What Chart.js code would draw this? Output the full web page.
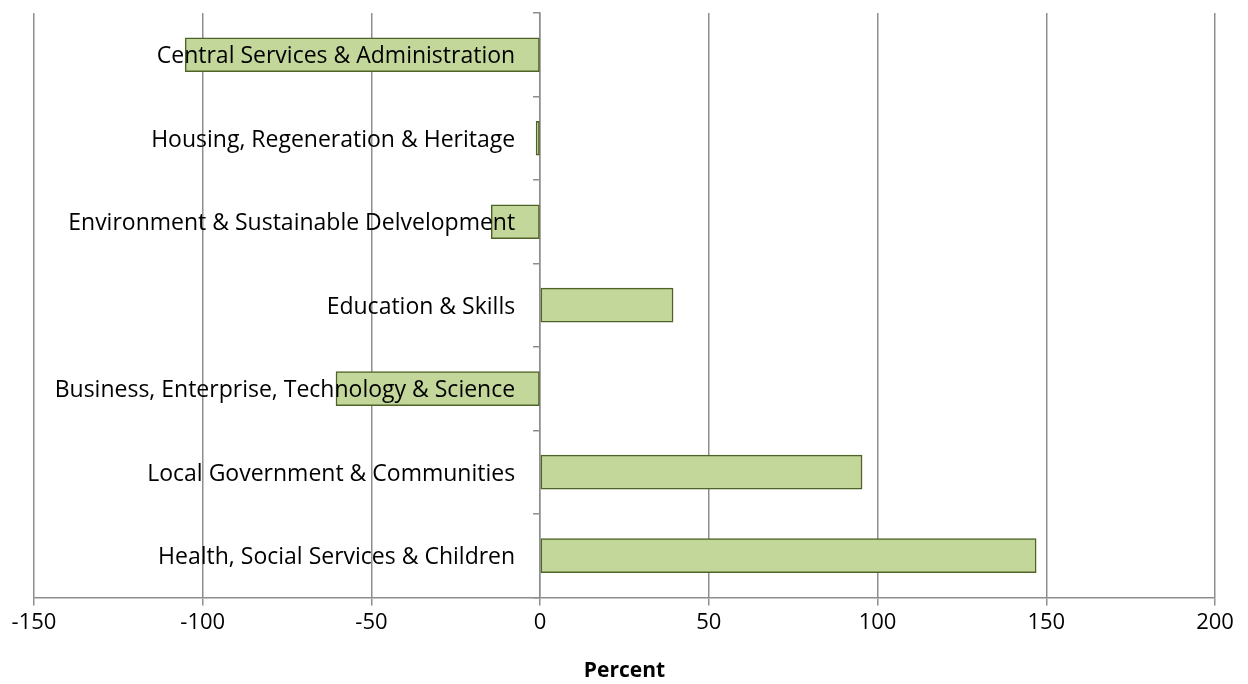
<!DOCTYPE html>
<html>
<head>
<meta charset="utf-8">
<script src="https://cdn.jsdelivr.net/npm/chart.js@4"></script>
<style>
  html, body { margin: 0; padding: 0; background: #fff; }
  #wrap { width: 1248px; height: 684px; }
</style>
</head>
<body>
<div id="wrap"><canvas id="budgetChart" width="1248" height="684"></canvas></div>
<script>
// categories, top to bottom
const categories = [
    "Central Services & Administration",
    "Housing, Regeneration & Heritage",
    "Environment & Sustainable Delvelopment",
    "Education & Skills",
    "Business, Enterprise, Technology & Science",
    "Local Government & Communities",
    "Health, Social Services & Children"
];
// percent change per department
const percentValues = [-105.2, -1.2, -14.5, 39.4, -60.5, 95.4, 147];
const xMin = -150;
const xMax = 200;
const xStep = 50;

const gridGrey = "#8e8e8e";
const fontFamily = "'Open Sans', Lato, sans-serif";

// category names are drawn left of the zero line, on top of the bars
const categoryLabels = {
    id: "categoryLabels",
    afterDatasetsDraw(chart) {
        const ctx = chart.ctx;
        const xScale = chart.scales.x;
        const yScale = chart.scales.y;
        const x0 = xScale.getPixelForValue(0);
        ctx.save();
        ctx.font = "23px " + fontFamily;
        ctx.fillStyle = "#000";
        ctx.textAlign = "right";
        ctx.textBaseline = "middle";
        categories.forEach((name, i) => {
            ctx.fillText(name, x0 - 25, yScale.getPixelForValue(i) + 2);
        });
        ctx.restore();
    }
};

const config = {
    type: "bar",
    data: {
        labels: categories,
        datasets: [{
            data: percentValues,
            backgroundColor: "#c4d79b",
            borderColor: "#4f6228",
            borderWidth: 1.5,
            borderSkipped: false,
            barThickness: 34
        }]
    },
    options: {
        indexAxis: "y",
        responsive: false,
        animation: false,
        layout: { padding: { left: 34, right: 33, top: 13, bottom: 0 } },
        plugins: {
            legend: { display: false },
            tooltip: { enabled: false }
        },
        scales: {
            x: {
                min: xMin,
                max: xMax,
                ticks: {
                    stepSize: xStep,
                    color: "#000",
                    font: { family: fontFamily, size: 22 },
                    padding: 4
                },
                grid: {
                    color: gridGrey,
                    lineWidth: 1.5,
                    tickLength: 8
                },
                border: { color: gridGrey, width: 1.5 },
                title: {
                    display: true,
                    text: "Percent",
                    color: "#000",
                    font: { family: fontFamily, size: 21, weight: "bold" },
                    padding: { top: 19, bottom: 0 }
                }
            },
            y: {
                position: { x: 0 },
                ticks: { display: false },
                grid: {
                    drawOnChartArea: false,
                    color: gridGrey,
                    lineWidth: 1.5,
                    tickLength: 6
                },
                border: { color: gridGrey, width: 1.5 }
            }
        }
    },
    plugins: [categoryLabels]
};

const ctx = document.getElementById("budgetChart").getContext("2d");
new Chart(ctx, config);
</script>
</body>
</html>
